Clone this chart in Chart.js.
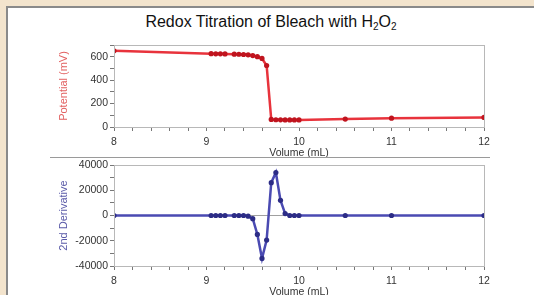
<!DOCTYPE html>
<html><head><meta charset="utf-8">
<script src="https://cdn.jsdelivr.net/npm/chart.js@4.4.1/dist/chart.umd.min.js"></script>
<style>
html,body{margin:0;padding:0;width:534px;height:295px;overflow:hidden;background:#fff;font-family:"Liberation Sans",Arial,sans-serif}
.abs{position:absolute}
#beigeTop{left:0;top:0;width:534px;height:6px;background:#f3e4cd}
#beigeLeft{left:0;top:0;width:6px;height:295px;background:#f3e4cd}
#grayTop{left:6px;top:6px;width:528px;height:2px;background:#8a8a8a}
#grayLeft{left:6px;top:6px;width:2px;height:289px;background:#8a8a8a}
#title{left:8px;width:526px;top:12px;line-height:20px;text-align:center;font-size:16px;color:#111}
#title sub{font-size:10px;vertical-align:-3px;line-height:0}
#sep{left:50px;top:157px;width:440px;height:1px;background:#9a9a9a}
#c1{left:0;top:30px}
#c2{left:0;top:150px}
</style></head>
<body>
<div class="abs" id="beigeTop"></div>
<div class="abs" id="beigeLeft"></div>
<div class="abs" id="grayTop"></div>
<div class="abs" id="grayLeft"></div>
<div class="abs" id="title">Redox Titration of Bleach with H<sub>2</sub>O<sub>2</sub></div>
<canvas class="abs" id="c1" width="534" height="130"></canvas>
<div class="abs" id="sep"></div>
<canvas class="abs" id="c2" width="534" height="148"></canvas>
<script>
// ---- data ----
const volume = [8, 9.05, 9.1, 9.15, 9.2, 9.3, 9.35, 9.4, 9.45, 9.5, 9.55, 9.6, 9.65, 9.7, 9.75, 9.8, 9.85, 9.9, 9.95, 10, 10.5, 11, 12];
const potential = [650, 626, 625, 625, 624, 622, 621, 619, 616, 610, 600, 585, 525, 65, 62, 61, 60, 60, 60, 60, 68, 75, 82];
const secondDerivative = [0, 0, 0, 0, 0, 0, 0, 0, -500, -2500, -15000, -34000, -19500, 26000, 34000, 12000, 1500, 0, 0, 0, 0, 0, 0];
const xTickLabels = ['8', '9', '10', '11', '12'];
const potentialTickLabels = ['0', '200', '400', '600'];
const derivTickLabels = ['-40000', '-20000', '0', '20000', '40000'];

const frame = {
  id: 'frame',
  afterDraw(chart) {
    const {ctx, chartArea: a} = chart;
    ctx.save();
    ctx.strokeStyle = '#b8b8b8';
    ctx.lineWidth = 1;
    ctx.strokeRect(Math.round(a.left) + 0.5, Math.round(a.top) + 0.5, Math.round(a.right - a.left), Math.round(a.bottom - a.top));
    ctx.restore();
  }
};

function near(v, w) { return Math.abs(v - w) < 1e-6; }

function build(id, yData, lineColor, ptColor, yTitle, yTitleColor, yMin, yMax, yStep, yLabels, xHeight, titleBottomPad, zeroLine) {
  const pts = volume.map((v, i) => ({x: v, y: yData[i]}));
  return new Chart(document.getElementById(id), {
    type: 'line',
    data: {datasets: [{
      data: pts,
      borderColor: lineColor,
      borderWidth: 2.5,
      pointRadius: 2.6,
      pointBackgroundColor: ptColor,
      pointBorderColor: ptColor,
      pointBorderWidth: 0,
      tension: 0
    }]},
    options: {
      responsive: false,
      animation: false,
      events: [],
      layout: {padding: {left: 57, right: 50, top: 15, bottom: 0}},
      plugins: {legend: {display: false}, tooltip: {enabled: false}},
      scales: {
        x: {
          type: 'linear', min: 8, max: 12,
          afterFit(s) { s.height = xHeight; },
          grid: {drawOnChartArea: false, tickLength: 4, tickColor: '#777'},
          border: {display: false},
          ticks: {
            stepSize: 0.2, autoSkip: false, maxRotation: 0, padding: 5,
            color: '#333', font: {size: 10.5, family: 'Liberation Sans'},
            callback(v) { const l = xTickLabels.find(t => near(+t, v)); return l === undefined ? '' : l; }
          },
          title: {display: true, text: 'Volume (mL)', color: '#333', padding: {top: 0, bottom: titleBottomPad}, font: {size: 10.5, family: 'Liberation Sans'}}
        },
        y: {
          min: yMin, max: yMax,
          afterFit(s) { s.width = 57; },
          grid: {
            drawOnChartArea: zeroLine, tickLength: 4, tickColor: '#777',
            color: c => (zeroLine && c.tick && c.tick.value === 0) ? '#a0a0a0' : 'rgba(0,0,0,0)'
          },
          border: {display: false},
          ticks: {
            stepSize: yStep, autoSkip: false, padding: 2,
            color: '#333', font: {size: 10.5, family: 'Liberation Sans'},
            callback(v) { const l = yLabels.find(t => near(+t, v)); return l === undefined ? '' : l; }
          },
          title: {display: true, text: yTitle, color: yTitleColor, padding: {top: 0, bottom: 0}, font: {size: 11, family: 'Liberation Sans'}}
        }
      }
    },
    plugins: [frame]
  });
}

build('c1', potential, '#e8333c', '#c0141e', 'Potential (mV)', '#e26060', 0, 700, 100, potentialTickLabels, 33, 1, false);
build('c2', secondDerivative, '#4a4ab2', '#2c2c86', '2nd Derivative', '#5a5aa8', -40000, 40000, 10000, derivTickLabels, 32, 0, true);
</script>
</body></html>
